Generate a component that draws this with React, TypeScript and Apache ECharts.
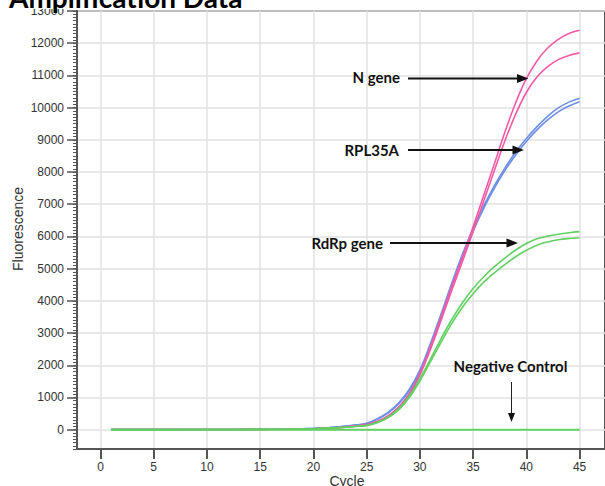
import React, { useEffect, useRef } from "react";
import * as echarts from "echarts";

// ---- data ----
const cycles = [1,2,3,4,5,6,7,8,9,10,11,12,13,14,15,16,17,18,19,20,21,22,23,24,25,26,27,28,29,30,31,32,33,34,35,36,37,38,39,40,41,42,43,44,45];

const rpl35aA = [2,2,3,3,3,4,4,5,5,6,6,7,8,9,11,13,16,20,28,40,55,80,110,150,200,340,540,830,1250,1850,2680,3600,4550,5450,6250,6950,7580,8130,8620,9040,9410,9730,9990,10170,10290];
const rpl35aB = [2,2,3,3,3,4,4,5,5,6,6,7,8,9,10,12,15,19,26,38,52,76,105,143,190,320,515,800,1210,1790,2600,3510,4460,5360,6160,6870,7500,8050,8530,8950,9310,9620,9870,10050,10185];
const nGeneA = [1,1,2,2,2,3,3,4,4,5,5,6,7,8,9,11,13,17,22,30,42,60,85,120,160,260,430,700,1120,1750,2580,3500,4450,5350,6300,7280,8260,9250,10150,10900,11450,11850,12120,12300,12400];
const nGeneB = [1,1,2,2,2,3,3,4,4,5,5,6,7,8,9,10,12,16,21,28,40,56,80,112,150,245,410,670,1080,1690,2500,3400,4330,5220,6150,7100,8050,8980,9800,10470,10950,11270,11490,11620,11700];
const rdrpA = [1,1,2,2,2,3,3,4,4,5,5,6,7,8,9,11,13,17,22,30,42,58,80,105,135,230,390,650,1040,1580,2200,2830,3420,3940,4380,4750,5060,5330,5580,5780,5930,6010,6070,6115,6150];
const rdrpB = [1,1,2,2,2,3,3,4,4,5,5,6,7,8,9,10,12,16,21,28,40,55,75,100,125,215,365,615,990,1510,2110,2720,3300,3800,4220,4580,4870,5130,5370,5570,5730,5830,5895,5935,5960];
const negative = [0,0,0,0,0,0,0,0,0,0,0,0,0,0,0,0,0,0,0,0,0,0,0,0,0,0,0,0,0,0,0,0,0,0,0,0,0,0,0,0,0,0,0,0,0];

const xTicks = [0, 5, 10, 15, 20, 25, 30, 35, 40, 45];
const yTicks = [0, 1000, 2000, 3000, 4000, 5000, 6000, 7000, 8000, 9000, 10000, 11000, 12000, 13000];
const yMinorTicks: number[] = [];
for (let v = -600; v <= 13000; v += 100) yMinorTicks.push(v);

const pair = (vals: number[]) => cycles.map((c, i) => [c, vals[i]]);

const PINK = "#f25aa6";
const BLUE = "#6f8fe6";
const GREEN = "#62d062";
const AXIS = "#555555";
const GRIDC = "#e2e2e2";
const FONT = "Liberation Sans, Arial, sans-serif";
const ANN = "Lato, Open Sans, sans-serif";

function curve(name: string, vals: number[], color: string, width = 1.6) {
  return {
    type: "line",
    name,
    data: pair(vals),
    showSymbol: false,
    symbol: "none",
    smooth: 0.4,
    lineStyle: { color, width },
    itemStyle: { color },
    yAxisIndex: 0,
  };
}

export default function App() {
  const ref = useRef<HTMLDivElement>(null);
  useEffect(() => {
    if (!ref.current) return;
    const chart = echarts.init(ref.current, undefined, { renderer: "svg" });
    const option = {
      animation: false,
      backgroundColor: "#ffffff",
      grid: {
        left: 77,
        top: 11,
        right: -5,
        bottom: 37,
        show: true,
        borderColor: AXIS,
        borderWidth: 2,
        backgroundColor: "transparent",
      },
      xAxis: {
        type: "value",
        min: -2.205,
        max: 47.39,
        axisLine: { show: true, onZero: false, lineStyle: { color: AXIS, width: 2 } },
        axisTick: { show: true, customValues: xTicks, length: 10, lineStyle: { color: AXIS, width: 2 } },
        axisLabel: { customValues: xTicks, color: "#333", fontSize: 12, fontFamily: FONT, margin: 12, formatter: (v: number) => String(v) },
        splitLine: { show: true, lineStyle: { color: GRIDC, width: 1.5 } },
      },
      yAxis: [
        {
          type: "value",
          min: -600,
          max: 13000,
          axisLine: { show: true, onZero: false, lineStyle: { color: AXIS, width: 2 } },
          axisTick: { show: true, customValues: yTicks, length: 10, lineStyle: { color: AXIS, width: 1.5 } },
          axisLabel: { customValues: yTicks, color: "#333", fontSize: 12, fontFamily: FONT, margin: 13, formatter: (v: number) => String(v) },
          splitLine: { show: true, lineStyle: { color: GRIDC, width: 1.5 } },
        },
        {
          type: "value",
          min: -600,
          max: 13000,
          position: "left",
          offset: 0,
          axisLine: { show: false, onZero: false },
          axisTick: { show: true, customValues: yMinorTicks, length: 4, lineStyle: { color: AXIS, width: 1 } },
          axisLabel: { show: false },
          splitLine: { show: false },
        },
      ],
      series: [
        curve("RPL35A a", rpl35aA, BLUE),
        curve("RPL35A b", rpl35aB, BLUE),
        curve("N gene a", nGeneA, PINK),
        curve("N gene b", nGeneB, PINK),
        curve("RdRp gene a", rdrpA, GREEN),
        curve("RdRp gene b", rdrpB, GREEN),
        curve("Negative Control", negative, GREEN, 2),
      ],
      graphic: [
        { type: "rect", z: 100, shape: { x: 0, y: 0, width: 605, height: 9 }, style: { fill: "#ffffff" } },
        {
          type: "text", z: 101, x: 9, y: -3,
          style: { text: "Amplification Data", fontSize: 28, fontWeight: "bold", fontFamily: ANN, fill: "#000", align: "left", verticalAlign: "middle" },
        },
        {
          type: "text", z: 50, x: 18, y: 229, rotation: Math.PI / 2,
          style: { text: "Fluorescence", fontSize: 14, fontFamily: FONT, fill: "#333", align: "center", verticalAlign: "middle" },
        },
        {
          type: "text", z: 50, x: 347, y: 481,
          style: { text: "Cycle", fontSize: 14, fontFamily: FONT, fill: "#333", align: "center", verticalAlign: "middle" },
        },
        // annotations
        { type: "text", z: 60, x: 400, y: 77, style: { text: "N gene", fontSize: 15, fontWeight: "bold", fontFamily: ANN, fill: "#111", align: "right", verticalAlign: "middle" } },
        { type: "line", z: 60, shape: { x1: 408, y1: 78.5, x2: 520, y2: 78.5 }, style: { stroke: "#111", lineWidth: 2 } },
        { type: "polygon", z: 60, shape: { points: [[528.5, 78.5], [517, 74], [517, 83]] }, style: { fill: "#111" } },

        { type: "text", z: 60, x: 399, y: 150, style: { text: "RPL35A", fontSize: 15, fontWeight: "bold", fontFamily: ANN, fill: "#111", align: "right", verticalAlign: "middle" } },
        { type: "line", z: 60, shape: { x1: 408, y1: 150, x2: 515, y2: 150 }, style: { stroke: "#111", lineWidth: 2 } },
        { type: "polygon", z: 60, shape: { points: [[524, 150], [512.5, 145.5], [512.5, 154.5]] }, style: { fill: "#111" } },

        { type: "text", z: 60, x: 383, y: 243, style: { text: "RdRp gene", fontSize: 15, fontWeight: "bold", fontFamily: ANN, fill: "#111", align: "right", verticalAlign: "middle" } },
        { type: "line", z: 60, shape: { x1: 390, y1: 243, x2: 509, y2: 243 }, style: { stroke: "#111", lineWidth: 2 } },
        { type: "polygon", z: 60, shape: { points: [[518, 243], [506.5, 238.5], [506.5, 247.5]] }, style: { fill: "#111" } },

        { type: "text", z: 60, x: 510.5, y: 366, style: { text: "Negative Control", fontSize: 15, fontWeight: "bold", fontFamily: ANN, fill: "#111", align: "center", verticalAlign: "middle" } },
        { type: "line", z: 60, shape: { x1: 511.5, y1: 382, x2: 511.5, y2: 414 }, style: { stroke: "#222", lineWidth: 1 } },
        { type: "polygon", z: 60, shape: { points: [[511.5, 422], [508, 413], [515, 413]] }, style: { fill: "#111" } },
      ],
    };
    chart.setOption(option as any);
    return () => chart.dispose();
  }, []);
  return (
    <div
      ref={ref}
      style={{ position: "fixed", left: 0, top: 0, width: 605, height: 486, background: "#fff" }}
    />
  );
}
